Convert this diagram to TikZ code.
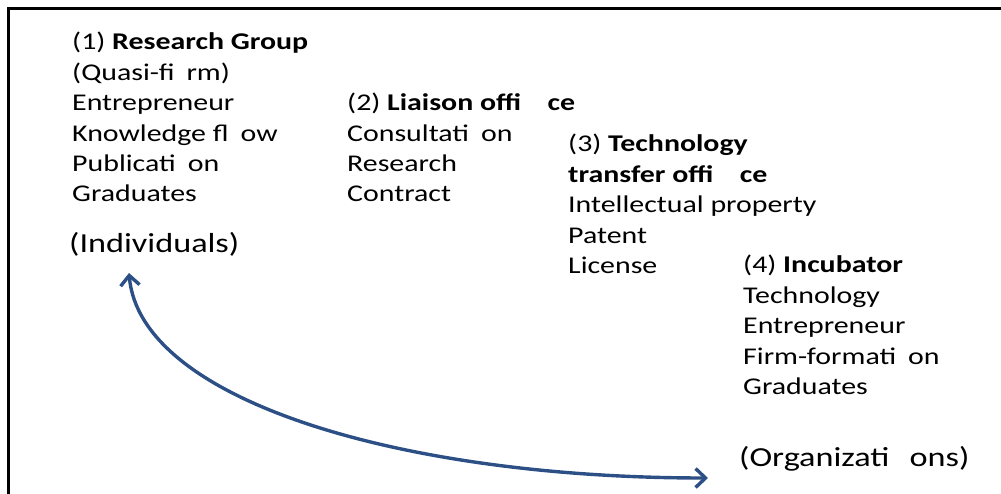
\documentclass[tikz,border=0pt]{standalone}
\usepackage{fontspec}
\setmainfont{Carlito}[FakeStretch=1.245]
\usetikzlibrary{arrows.meta}
\definecolor{linkblue}{HTML}{2C5086}
\newcommand{\gap}{\hspace{0.5em}}
\tikzset{
  % multi-line blocks are placed by the baseline of their last line
  block/.style={anchor=base west, inner sep=0pt, align=left,
    font=\fontsize{24}{30.4}\selectfont},
  scale label/.style={anchor=base west, inner sep=0pt,
    font=\fontsize{27.5}{30}\selectfont},
  barb/.tip={Straight Barb[length=10pt,width=19pt,line width=3.4pt]},
  link/.style={draw=linkblue, line width=3.4pt, {barb}-{barb}},
  frame/.style={draw=black, line width=2.2pt}
}
\begin{document}
\begin{tikzpicture}[x=1pt,y=-1pt]
  \useasboundingbox (0,0) rectangle (1001,494);
  % open frame: top and left edges
  \draw[frame] (8.5,505) -- (8.5,8.5) -- (1010,8.5);

  \node[block] (rg) at (72,202) {(1) \textbf{Research Group}\\(Quasi-fi\gap rm)\\Entrepreneur\\Knowledge fl\gap ow\\Publicati\gap on\\Graduates};
  \node[scale label] (ind) at (69,253) {(Individuals)};

  \node[block] (lo) at (347,202) {(2) \textbf{Liaison offi\hspace{1.1em}ce}\\Consultati\gap on\\Research\\Contract};

  \node[block] (tto) at (568,273.5) {(3) \textbf{Technology}\\\textbf{transfer offi\hspace{1.1em}ce}\\Intellectual property\\Patent\\License};

  \node[block] (inc) at (743,394.5) {(4) \textbf{Incubator}\\Technology\\Entrepreneur\\Firm-formati\gap on\\Graduates};
  \node[scale label] (org) at (739,466) {(Organizati\hspace{0.45em} ons)};

  \coordinate (indtip) at (129,273);
  \coordinate (orgtip) at (708,478);
  \draw[link] (indtip) .. controls (140,400) and (400,478) .. (orgtip);
\end{tikzpicture}
\end{document}
